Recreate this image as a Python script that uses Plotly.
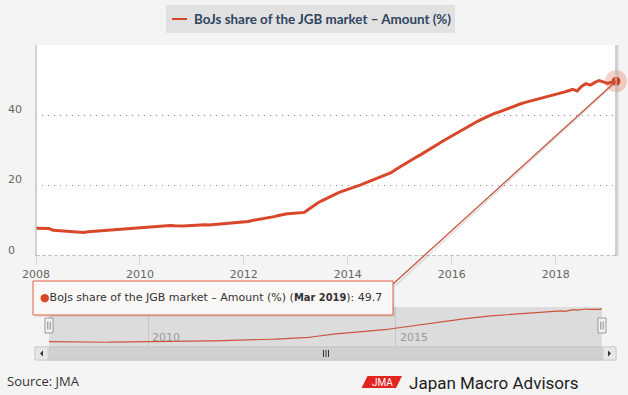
import plotly.graph_objects as go
import pandas as pd

# ---------------- data ----------------
series_name = "BoJs share of the JGB market – Amount (%)"
share_2008 = [7.9, 7.8, 7.9, 7.8, 7.3, 7.2, 7.2, 7.1, 6.9, 6.8, 6.7, 6.7]
share_2009 = [6.9, 7.0, 7.1, 7.3, 7.4, 7.5, 7.6, 7.6, 7.6, 7.7, 7.8, 7.9]
share_2010 = [8.0, 8.1, 8.2, 8.3, 8.4, 8.5, 8.7, 8.7, 8.6, 8.5, 8.5, 8.6]
share_2011 = [8.7, 8.8, 8.9, 8.9, 8.8, 8.9, 8.9, 9.0, 9.1, 9.2, 9.3, 9.4]
share_2012 = [9.6, 9.8, 10.1, 10.3, 10.5, 10.8, 11.0, 11.2, 11.5, 11.8, 12.0, 12.1]
share_2013 = [12.2, 12.3, 12.4, 13.3, 14.2, 15.0, 15.7, 16.3, 17.0, 17.6, 18.1, 18.5]
share_2014 = [18.9, 19.3, 19.7, 20.2, 20.7, 21.2, 21.6, 22.0, 22.5, 23.0, 23.7, 24.5]
share_2015 = [25.3, 26.0, 26.8, 27.5, 28.2, 28.9, 29.7, 30.4, 31.2, 31.9, 32.7, 33.4]
share_2016 = [34.2, 34.9, 35.6, 36.3, 37.0, 37.6, 38.3, 38.9, 39.5, 40.1, 40.6, 41.0]
share_2017 = [41.5, 41.9, 42.4, 42.9, 43.3, 43.7, 44.0, 44.4, 44.7, 45.0, 45.3, 45.6]
share_2018 = [46.0, 46.3, 46.6, 47.0, 47.4, 46.9, 48.2, 49.0, 48.6, 49.3, 49.9, 49.5]
share_2019 = [49.1, 49.4, 49.7]
share = (share_2008 + share_2009 + share_2010 + share_2011 + share_2012 + share_2013 +
         share_2014 + share_2015 + share_2016 + share_2017 + share_2018 + share_2019)
months = pd.date_range("2008-01-01", periods=len(share), freq="MS")

x_tick_years = [2008, 2010, 2012, 2014, 2016, 2018]
y_tick_values = [0, 20, 40]
y_grid_values = [20, 40, 60]
y_range = [0, 60]
nav_label_years = [2010, 2015]
nav_y_range = [1, 52.5]
source_text = "Source: JMA"
brand_text = "Japan Macro Advisors"
brand_mark = "JMA"

# ---------------- geometry helpers (pixels -> paper) ----------------
W, H = 628, 395
L, R, T, B = 36, 12, 45, 35
PW, PH = W - L - R, H - T - B


def px(x):
    return (x - L) / PW


def py(y):
    return (H - B - y) / PH


RED = "#d9472b"
BG = "#f4f4f4"
main_ydom = [py(256), 1.0]

fig = go.Figure()

fig.add_trace(go.Scatter(x=months, y=share, mode="lines", name=series_name,
                         line=dict(color=RED, width=3), hoverinfo="skip",
                         xaxis="x", yaxis="y"))
fig.add_trace(go.Scatter(x=[months[-1]], y=[share[-1]], mode="markers",
                         marker=dict(size=22, color="rgba(217,71,43,0.25)"),
                         cliponaxis=False, hoverinfo="skip", xaxis="x", yaxis="y"))
fig.add_trace(go.Scatter(x=[months[-1]], y=[share[-1]], mode="markers",
                         marker=dict(size=9, color=RED),
                         cliponaxis=False, hoverinfo="skip", xaxis="x", yaxis="y"))
fig.add_trace(go.Scatter(x=months, y=share, mode="lines",
                         line=dict(color="#c9553e", width=1.2), hoverinfo="skip",
                         xaxis="x2", yaxis="y2"))

x_range = [months[0], months[-1]]

shapes = []
# main plot area
shapes.append(dict(type="rect", xref="x domain", yref="y domain", x0=0, x1=1, y0=0, y1=1,
                   fillcolor="white", line=dict(width=0), layer="below"))
# navigator background
shapes.append(dict(type="rect", xref="x2 domain", yref="y2 domain", x0=0, x1=1, y0=0, y1=1,
                   fillcolor="#dcdcdc", line=dict(width=0), layer="below"))
# plot borders
shapes.append(dict(type="line", xref="x domain", yref="y domain", x0=0, x1=0, y0=0, y1=1,
                   line=dict(color="#c4c4c4", width=1.5)))
shapes.append(dict(type="line", xref="paper", yref="y domain", x0=px(617.5), x1=px(617.5), y0=0, y1=1,
                   line=dict(color="rgba(0,0,0,0.08)", width=3)))
shapes.append(dict(type="line", xref="x domain", yref="y domain", x0=1, x1=1, y0=0, y1=1,
                   line=dict(color="#c0c0c0", width=1.5)))
# dashed baseline
shapes.append(dict(type="line", xref="x domain", yref="y", x0=0, x1=1, y0=0, y1=0,
                   line=dict(color="#8a8a8a", width=1, dash="4px,2px")))

# scrollbar
shapes.append(dict(type="rect", xref="paper", yref="paper", x0=px(35), x1=px(616), y0=py(360), y1=py(347),
                   fillcolor="#ebebeb", line=dict(color="#d0d0d0", width=1)))
shapes.append(dict(type="rect", xref="paper", yref="paper", x0=px(49), x1=px(602), y0=py(360), y1=py(347),
                   fillcolor="#d0d0d0", line=dict(color="#c6c6c6", width=1)))
for a, b in [(35, 48), (603, 616)]:
    shapes.append(dict(type="rect", xref="paper", yref="paper", x0=px(a), x1=px(b), y0=py(360), y1=py(347),
                       fillcolor="#e6e6e6", line=dict(color="#cfcfcf", width=1)))
shapes.append(dict(type="path", xref="paper", yref="paper",
                   path=f"M {px(40)} {py(353.5)} L {px(43)} {py(350.5)} L {px(43)} {py(356.5)} Z",
                   fillcolor="#333", line=dict(width=0)))
shapes.append(dict(type="path", xref="paper", yref="paper",
                   path=f"M {px(611)} {py(353.5)} L {px(608)} {py(350.5)} L {px(608)} {py(356.5)} Z",
                   fillcolor="#333", line=dict(width=0)))
for gx in (323.5, 326, 328.5):
    shapes.append(dict(type="line", xref="paper", yref="paper", x0=px(gx), x1=px(gx), y0=py(357), y1=py(350),
                       line=dict(color="#333", width=1)))
# navigator handles
for cx in (49, 602):
    shapes.append(dict(type="rect", xref="paper", yref="paper", x0=px(cx - 4), x1=px(cx + 4),
                       y0=py(333), y1=py(318), fillcolor="#f2f2f2", line=dict(color="#999", width=1)))
    for dx in (-1.2, 1.2):
        shapes.append(dict(type="line", xref="paper", yref="paper", x0=px(cx + dx), x1=px(cx + dx),
                           y0=py(329.5), y1=py(321.5), line=dict(color="#888", width=1)))

# legend box
shapes.append(dict(type="rect", xref="paper", yref="paper", x0=px(166), x1=px(455), y0=py(33), y1=py(5),
                   fillcolor="#e1e1e1", line=dict(width=0)))
shapes.append(dict(type="line", xref="paper", yref="paper", x0=px(172), x1=px(187), y0=py(19), y1=py(19),
                   line=dict(color=RED, width=2)))

# callout line from tooltip to last point (point position through y scale)
pt_y = main_ydom[0] + (share[-1] - y_range[0]) / (y_range[1] - y_range[0]) * (main_ydom[1] - main_ydom[0])
shapes.append(dict(type="line", xref="paper", yref="paper", x0=px(395), y0=py(286), x1=1.0, y1=pt_y - 1 / PH,
                   line=dict(color="rgba(0,0,0,0.12)", width=1.5)))
shapes.append(dict(type="line", xref="paper", yref="paper", x0=px(393), y0=py(284), x1=1.0, y1=pt_y,
                   line=dict(color="#c8553d", width=1.3)))
# tooltip box
shapes.append(dict(type="rect", xref="paper", yref="paper", x0=px(35), x1=px(395), y0=py(317), y1=py(283),
                   fillcolor="rgba(0,0,0,0.07)", line=dict(width=0)))
shapes.append(dict(type="rect", xref="paper", yref="paper", x0=px(33), x1=px(393), y0=py(315), y1=py(281),
                   fillcolor="rgba(251,249,248,0.97)", line=dict(color="#e0603f", width=1)))

# JMA logo parallelogram
shapes.append(dict(type="path", xref="paper", yref="paper",
                   path=(f"M {px(361.5)} {py(388)} L {px(367.5)} {py(376)} L {px(402)} {py(376)} "
                         f"L {px(396)} {py(388)} Z"),
                   fillcolor="#e32420", line=dict(width=0)))

annotations = []
axis_font = dict(family="DejaVu Sans", size=11, color="#666666")
for v in y_tick_values:
    annotations.append(dict(xref="paper", yref="y", x=px(6), y=v, xanchor="left", yanchor="middle",
                            yshift=6, text=str(v), showarrow=False, font=axis_font))
for yr in nav_label_years:
    annotations.append(dict(xref="x2", yref="paper", x=f"{yr}-01-01", y=py(337.5), xanchor="left",
                            yanchor="middle", xshift=2, text=str(yr), showarrow=False,
                            font=dict(family="DejaVu Sans", size=11, color="#9a9a9a")))
annotations.append(dict(xref="paper", yref="paper", x=px(192), y=py(19), xanchor="left", yanchor="middle",
                        text=f"<b>{series_name}</b>", showarrow=False,
                        font=dict(family="Lato", size=13.4, color="#2f4560")))
tip = (f'<span style="color:{RED}">●</span>{series_name} '
       f'(<span style="font-family:\'DejaVu Sans Condensed\',\'Liberation Sans Narrow\',sans-serif">'
       f'<b>{months[-1].strftime("%b %Y")}</b></span>): {share[-1]}')
annotations.append(dict(xref="paper", yref="paper", x=px(38), y=py(297.5), xanchor="left", yanchor="middle",
                        text=tip, showarrow=False,
                        font=dict(family="DejaVu Sans", size=11, color="#333333")))
annotations.append(dict(xref="paper", yref="paper", x=px(5), y=py(381), xanchor="left", yanchor="middle",
                        text=source_text, showarrow=False,
                        font=dict(family="Open Sans", size=13, color="#333333")))
annotations.append(dict(xref="paper", yref="paper", x=px(382), y=py(382.5), xanchor="center", yanchor="middle",
                        text=brand_mark, showarrow=False,
                        font=dict(family="Roboto", size=10, color="white")))
annotations.append(dict(xref="paper", yref="paper", x=px(407), y=py(382.5), xanchor="left", yanchor="middle",
                        text=brand_text, showarrow=False,
                        font=dict(family="Roboto", size=17, color="#1e1e1e")))

fig.update_layout(
    width=W, height=H,
    margin=dict(l=L, r=R, t=T, b=B, pad=0),
    paper_bgcolor=BG, plot_bgcolor=BG,
    showlegend=False,
    xaxis=dict(domain=[0, 1], anchor="y", type="date", range=x_range,
               tickvals=[f"{y}-01-01" for y in x_tick_years], ticktext=[str(y) for y in x_tick_years],
               ticks="outside", ticklen=8, tickcolor="#ccd6eb", tickwidth=1,
               showgrid=False, showline=False, zeroline=False, tickfont=axis_font, fixedrange=True),
    yaxis=dict(domain=main_ydom, anchor="x", range=y_range, tickvals=y_grid_values,
               showticklabels=False, ticks="", showgrid=True, gridcolor="#8f8f8f", gridwidth=1,
               griddash="1px,5px", zeroline=False, showline=False, fixedrange=True),
    xaxis2=dict(domain=[px(49), px(602)], anchor="y2", type="date", range=x_range,
                tickvals=[f"{y}-01-01" for y in nav_label_years], showticklabels=False, ticks="",
                showgrid=True, gridcolor="#c6c6c6", gridwidth=1, zeroline=False, showline=False),
    yaxis2=dict(domain=[py(347), py(307)], anchor="x2", range=nav_y_range, showticklabels=False,
                showgrid=False, zeroline=False, showline=False, ticks=""),
    shapes=shapes, annotations=annotations,
)

fig.write_html("out.html", config={"displayModeBar": False},
               post_script="document.body.style.margin='0';document.body.style.padding='0';"
                           "document.body.style.background='" + BG + "';")
